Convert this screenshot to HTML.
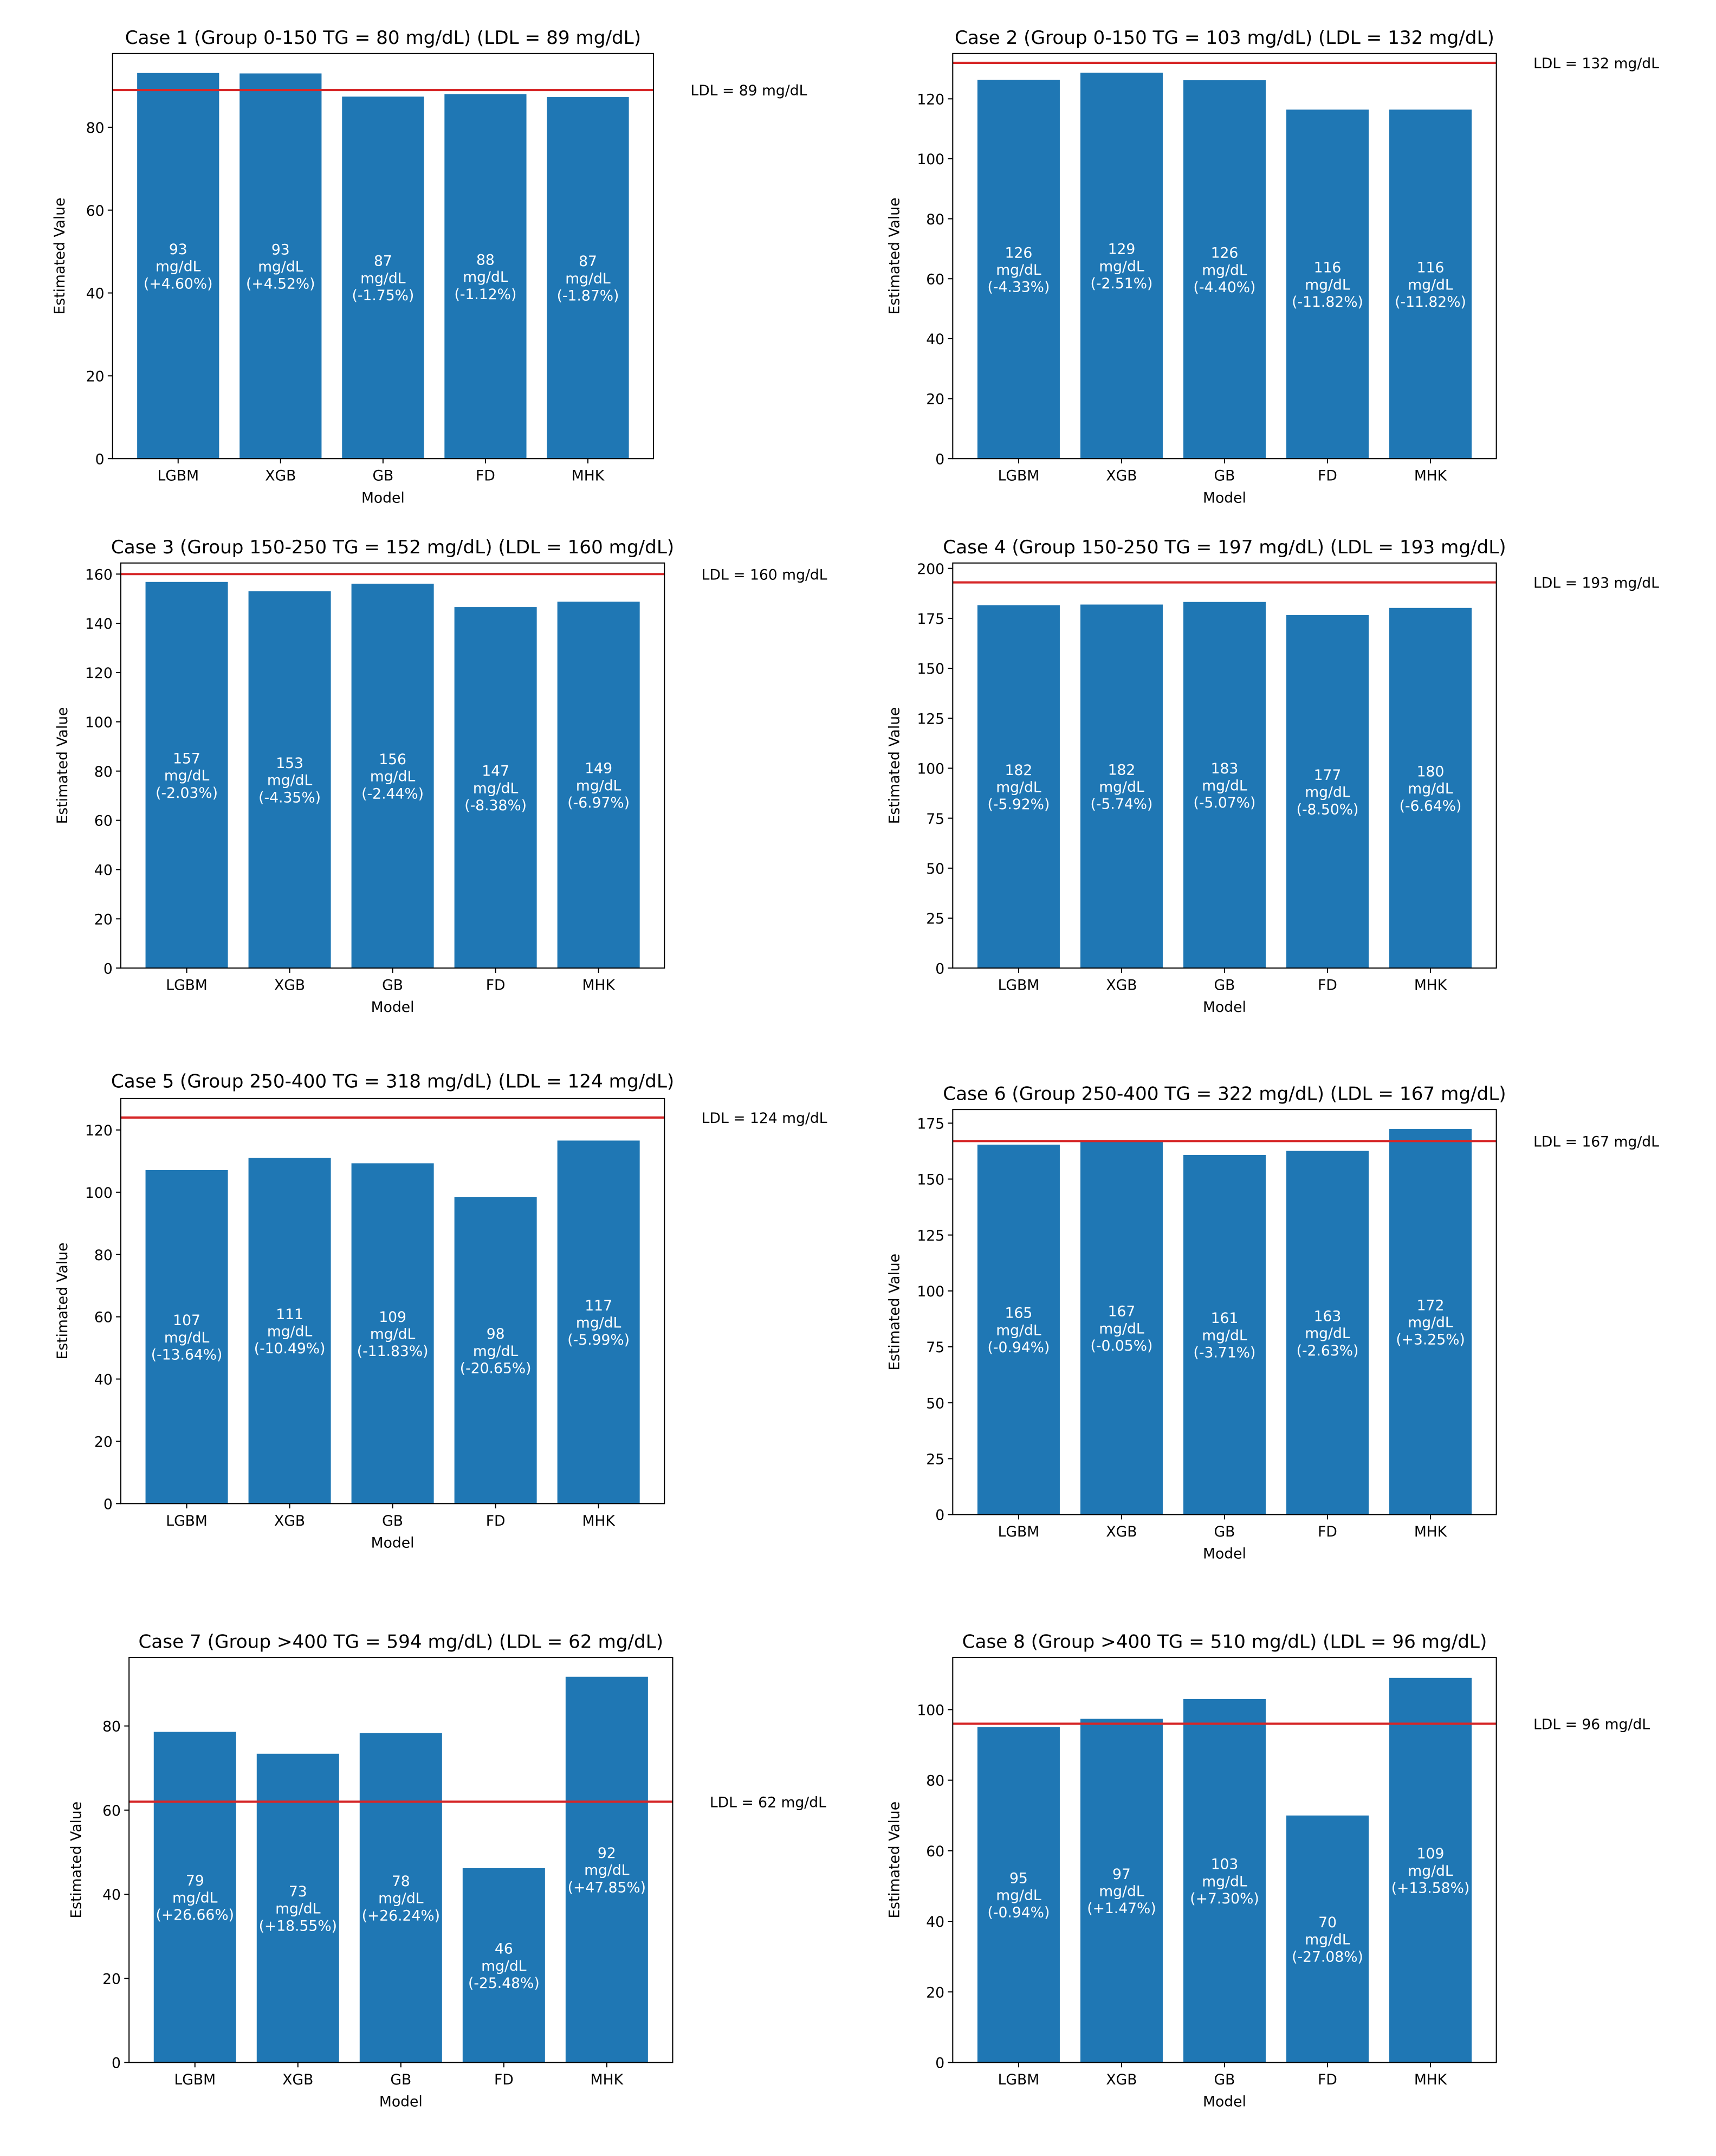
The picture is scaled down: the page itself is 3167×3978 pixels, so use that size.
<!DOCTYPE html>
<html><head><meta charset="utf-8">
<style>
html,body{margin:0;padding:0;background:#fff;}
svg{display:block;font-family:"DejaVu Sans","Liberation Sans",sans-serif;}
</style></head>
<body>
<svg id="fig" width="3167" height="3978" viewBox="0 0 1250 1570.1" preserveAspectRatio="none" xmlns="http://www.w3.org/2000/svg"></svg>
<script>
const categories = ["LGBM","XGB","GB","FD","MHK"];
const caseTitles = [
 "Case 1 (Group 0-150 TG = 80 mg/dL) (LDL = 89 mg/dL)",
 "Case 2 (Group 0-150 TG = 103 mg/dL) (LDL = 132 mg/dL)",
 "Case 3 (Group 150-250 TG = 152 mg/dL) (LDL = 160 mg/dL)",
 "Case 4 (Group 150-250 TG = 197 mg/dL) (LDL = 193 mg/dL)",
 "Case 5 (Group 250-400 TG = 318 mg/dL) (LDL = 124 mg/dL)",
 "Case 6 (Group 250-400 TG = 322 mg/dL) (LDL = 167 mg/dL)",
 "Case 7 (Group >400 TG = 594 mg/dL) (LDL = 62 mg/dL)",
 "Case 8 (Group >400 TG = 510 mg/dL) (LDL = 96 mg/dL)"
];
const ldlValues = [89,132,160,193,124,167,62,96];
const case1Values = [93.1,93.0,87.4,88.0,87.3];
const case2Values = [126.3,128.7,126.2,116.4,116.4];
const case3Values = [156.8,153.0,156.1,146.6,148.8];
const case4Values = [181.6,181.9,183.2,176.6,180.2];
const case5Values = [107.1,111.0,109.3,98.4,116.6];
const case6Values = [165.4,166.9,160.8,162.6,172.4];
const case7Values = [78.6,73.4,78.3,46.2,91.7];
const case8Values = [95.1,97.4,103.0,70.0,109.0];
const case1Pct = ["+4.60","+4.52","-1.75","-1.12","-1.87"];
const case2Pct = ["-4.33","-2.51","-4.40","-11.82","-11.82"];
const case3Pct = ["-2.03","-4.35","-2.44","-8.38","-6.97"];
const case4Pct = ["-5.92","-5.74","-5.07","-8.50","-6.64"];
const case5Pct = ["-13.64","-10.49","-11.83","-20.65","-5.99"];
const case6Pct = ["-0.94","-0.05","-3.71","-2.63","+3.25"];
const case7Pct = ["+26.66","+18.55","+26.24","-25.48","+47.85"];
const case8Pct = ["-0.94","+1.47","+7.30","-27.08","+13.58"];
const yMaxLimits = [97.8,135.1,164.5,202.7,130.1,181.1,96.3,114.8];
const yTickSteps = [20,20,20,25,20,25,20,20];

const allValues=[case1Values,case2Values,case3Values,case4Values,case5Values,case6Values,case7Values,case8Values];
const allPct=[case1Pct,case2Pct,case3Pct,case4Pct,case5Pct,case6Pct,case7Pct,case8Pct];
// layout: [left,top,right,bottom,titleY]
const layouts=[[82,39,476,334,27],[694,39,1090,334,27],[88,410,484,705,398],[694,410,1090,705,398],
 [88,800,484,1095,787],[694,808,1090,1103,796],[94,1207,490,1502,1195],[694,1207,1090,1502,1195]];
const NS="http://www.w3.org/2000/svg";
const svg=document.getElementById('fig');
function mk(tag,attrs,parent){const e=document.createElementNS(NS,tag);for(const k in attrs)e.setAttribute(k,attrs[k]);(parent||svg).appendChild(e);return e;}
for(let c=0;c<8;c++){
  const [L,T,R,B,ty]=layouts[c];
  const vals=allValues[c],pct=allPct[c],ymax=yMaxLimits[c];
  const g=mk('g',{});
  
  
  const x=v=>L+(v+0.64)/5.28*(R-L);
  const y=v=>B-v/ymax*(B-T);
  const t=mk('text',{x:(L+R)/2,y:ty+5,'text-anchor':'middle','font-size':13.5,fill:'#000'},g);
  t.textContent=caseTitles[c];
  
  
  vals.forEach((v,i)=>{
    const r=mk('rect',{x:x(i-0.4),y:y(v),width:x(i+0.4)-x(i-0.4),height:B-y(v),fill:'#1f77b4'},g);
    
    
    const cy=y(v/2);
    const lab=mk('text',{x:x(i),y:cy,'text-anchor':'middle','font-size':10.5,fill:'#fff'},g);
    
    
    [String(Math.round(v)),'mg/dL','('+pct[i]+'%)'].forEach((s,k)=>{
      const ts=mk('tspan',{x:x(i),y:cy+(k-1)*12.5+4},lab);ts.textContent=s;});
    const tk=mk('line',{x1:x(i),x2:x(i),y1:B,y2:B+3.5,stroke:'#000','stroke-width':0.8},g);
    const tl=mk('text',{x:x(i),y:B+16,'text-anchor':'middle','font-size':10.5,fill:'#000'},g);
    tl.textContent=categories[i];
    
    
  });
  const step=yTickSteps[c];
  for(let v=0;v<=ymax;v+=step){
    mk('line',{x1:L-3.5,x2:L,y1:y(v),y2:y(v),stroke:'#000','stroke-width':0.8},g);
    const yl=mk('text',{x:L-6,y:y(v)+4,'text-anchor':'end','font-size':10.5,fill:'#000'},g);
    yl.textContent=String(v);
    
    
  }
  const ld=ldlValues[c];
  const ln=mk('line',{x1:L,x2:R,y1:y(ld),y2:y(ld),stroke:'#d62728','stroke-width':1.6},g);
  
  
  const lt=mk('text',{x:R+27,y:y(ld)+4,'font-size':10.5,fill:'#000'},g);
  lt.textContent='LDL = '+ld+' mg/dL';
  
  
  const fr=mk('rect',{x:L,y:T,width:R-L,height:B-T,fill:'none',stroke:'#000','stroke-width':0.8},g);
  
  
  const yoff=ymax>=100?39:35;
  const ya=mk('text',{x:L-yoff,y:(T+B)/2,'text-anchor':'middle','font-size':10.5,fill:'#000',transform:'rotate(-90 '+(L-yoff)+' '+((T+B)/2)+')'},g);
  ya.textContent='Estimated Value';
  
  
  const xa=mk('text',{x:(L+R)/2,y:B+32,'text-anchor':'middle','font-size':10.5,fill:'#000'},g);
  xa.textContent='Model';
  
  
}
</script>
</body></html>
